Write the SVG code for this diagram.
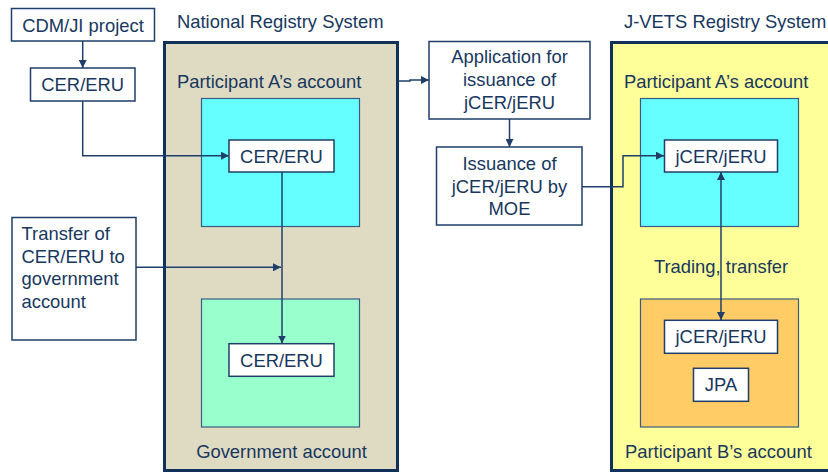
<svg xmlns="http://www.w3.org/2000/svg" width="828" height="473" viewBox="0 0 828 473">
<defs>
<style>
text{font-family:"Liberation Sans",Arial,sans-serif;font-size:18.4px;fill:#17375E}
.c{text-anchor:middle}
.box{fill:#fff;stroke:#1F3F6A;stroke-width:1.5}
.outer{stroke:#10315A;stroke-width:3}
.acc{stroke:#3B5B82;stroke-width:1.2}
.con{fill:none;stroke:#1F3F6A;stroke-width:1.5}
</style>
<marker id="ah" viewBox="0 0 10 10" refX="10" refY="5" markerWidth="8" markerHeight="8" markerUnits="userSpaceOnUse" orient="auto-start-reverse">
<path d="M0,0 L10,5 L0,10 z" fill="#1F3F6A"/>
</marker>
</defs>
<rect width="828" height="473" fill="#fff"/>

<g id="national">
<rect class="outer" x="164.5" y="42.5" width="233" height="428" fill="#DFDBC3"/>
<text x="177" y="28">National Registry System</text>
<text x="177" y="88">Participant A’s account</text>
<text class="c" x="281.5" y="458">Government account</text>
</g>
<g id="nat-accA">
<rect class="acc" x="201.5" y="98.5" width="158" height="128" fill="#66FFFF"/>
</g>
<g id="nat-gov">
<rect class="acc" x="201.5" y="299" width="158" height="128" fill="#99FFCC"/>
</g>
<g id="jvets">
<rect class="outer" x="611.5" y="42.5" width="220" height="428" fill="#FFFF99"/>
<text x="624" y="28">J-VETS Registry System</text>
<text x="624" y="88">Participant A’s account</text>
<text x="625" y="458">Participant B’s account</text>
<text class="c" x="721" y="273">Trading, transfer</text>
</g>
<g id="jv-accA">
<rect class="acc" x="640.5" y="98.5" width="158" height="128" fill="#66FFFF"/>
</g>
<g id="jv-accB">
<rect class="acc" x="640.5" y="299" width="158" height="128" fill="#FFCC66"/>
</g>

<g id="connectors">
<path class="con" d="M82.7,41 V68" marker-end="url(#ah)"/>
<path class="con" d="M82.7,101 V155.7 H229" marker-end="url(#ah)"/>
<path class="con" d="M282,172 V343.5" marker-end="url(#ah)"/>
<path class="con" d="M136,267.3 H281" marker-end="url(#ah)"/>
<path class="con" d="M398,81 H410 V80 H429" marker-end="url(#ah)"/>
<path class="con" d="M509.5,119 V147" marker-end="url(#ah)"/>
<path class="con" d="M582,186.7 H623 V155.7 H664" marker-end="url(#ah)"/>
<path class="con" d="M721,172 V320" marker-start="url(#ah)" marker-end="url(#ah)"/>
</g>

<g id="cdm">
<rect class="box" x="11.5" y="8.5" width="143" height="32.5"/>
<text class="c" x="83" y="31.5">CDM/JI project</text>
</g>
<g id="cer-src">
<rect class="box" x="30.5" y="68" width="104.5" height="33"/>
<text class="c" x="82.7" y="91">CER/ERU</text>
</g>
<g id="transfer">
<rect class="box" x="12" y="217.5" width="124" height="122.5"/>
<text x="21.5" y="240">Transfer of</text>
<text x="21.5" y="262.5">CER/ERU to</text>
<text x="21.5" y="285">government</text>
<text x="21.5" y="307.5">account</text>
</g>
<g id="cer-a">
<rect class="box" x="229" y="140" width="105" height="32"/>
<text class="c" x="281.5" y="163.3">CER/ERU</text>
</g>
<g id="cer-gov">
<rect class="box" x="229" y="343.7" width="105" height="32.6"/>
<text class="c" x="281.5" y="366.7">CER/ERU</text>
</g>
<g id="application">
<rect class="box" x="429" y="41.5" width="161" height="77.5"/>
<text class="c" x="509.5" y="63.3">Application for</text>
<text class="c" x="509.5" y="86">issuance of</text>
<text class="c" x="509.5" y="108.5">jCER/jERU</text>
</g>
<g id="issuance">
<rect class="box" x="436.5" y="147" width="145.5" height="78"/>
<text class="c" x="509.5" y="170">Issuance of</text>
<text class="c" x="509.5" y="192.7">jCER/jERU by</text>
<text class="c" x="509.5" y="215">MOE</text>
</g>
<g id="jcer-a">
<rect class="box" x="664.5" y="140" width="113" height="32"/>
<text class="c" x="721" y="163.3">jCER/jERU</text>
</g>
<g id="jcer-b">
<rect class="box" x="664.5" y="320.3" width="113" height="33"/>
<text class="c" x="721" y="343.3">jCER/jERU</text>
</g>
<g id="jpa">
<rect class="box" x="693.5" y="368.3" width="55" height="33"/>
<text class="c" x="721" y="391">JPA</text>
</g>
</svg>
